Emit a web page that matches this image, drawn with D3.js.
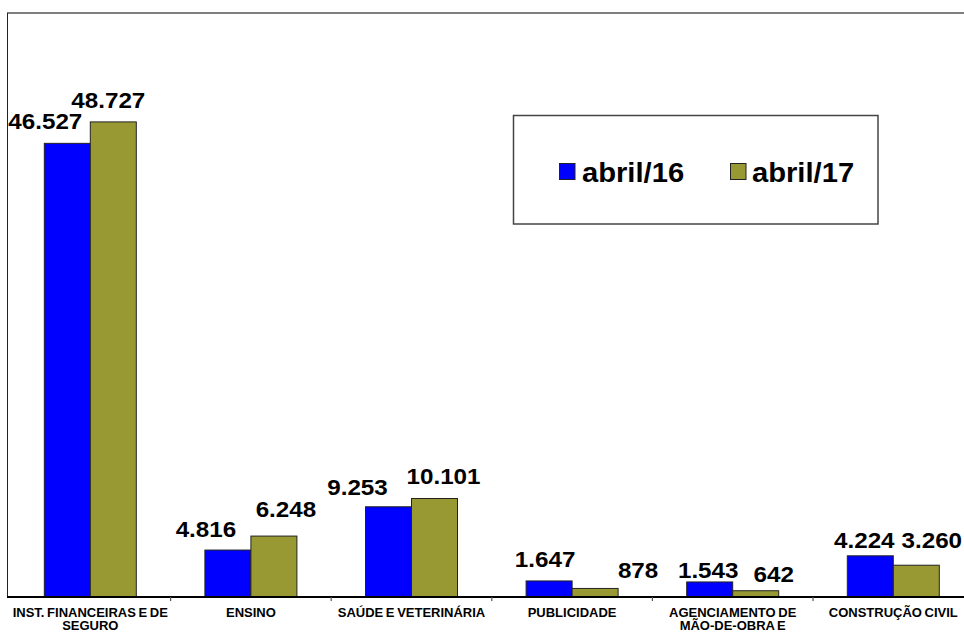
<!DOCTYPE html>
<html>
<head>
<meta charset="utf-8">
<script src="https://cdn.jsdelivr.net/npm/d3@7"></script>
<style>
  html, body { margin: 0; padding: 0; background: #fff; }
  svg { display: block; }
  text { font-family: "Liberation Sans", Arial, sans-serif; font-weight: bold; fill: #000; }
</style>
</head>
<body>
<svg id="chart" width="964" height="636"></svg>
<script>
// Sectors (two-line labels split with "\n")
const categories = [
  "INST. FINANCEIRAS E DE\nSEGURO",
  "ENSINO",
  "SAÚDE E VETERINÁRIA",
  "PUBLICIDADE",
  "AGENCIAMENTO DE\nMÃO-DE-OBRA E",
  "CONSTRUÇÃO CIVIL"
];
const seriesNames = ["abril/16", "abril/17"];
const valuesApr16 = [46527, 4816, 9253, 1647, 1543, 4224];
const valuesApr17 = [48727, 6248, 10101, 878, 642, 3260];
const yDomain = [0, 60000];

// Hand-placed label nudges (dx from bar centre, dy of baseline from bar top)
const labelNudge = [
  [[-22, -14], [-5, -14]],
  [[-22, -13], [12, -19]],
  [[-31, -12], [9, -14.5]],
  [[-4, -13.5], [43, -10]],
  [[-1.5, -4], [18, -9]],
  [[-6, -8], [15.5, -17]]
];

const colors = ["#0000FF", "#999933"];
const fmt = d3.formatLocale({ decimal: ",", thousands: ".", grouping: [3], currency: ["", ""] }).format(",d");

const svg = d3.select("#chart");
const plot = { left: 10, right: 973.6, top: 13, base: 597 };

const x = d3.scaleBand()
  .domain(d3.range(categories.length))
  .range([plot.left, plot.right])
  .padding(0);
const bw = x.bandwidth();
const xs = d3.scaleBand()
  .domain(d3.range(seriesNames.length))
  .range([bw / 2 - 46, bw / 2 + 46])
  .padding(0);
const y = d3.scaleLinear().domain(yDomain).range([plot.base, 12]);

const rows = categories.map((c, i) => ({
  cat: c, i,
  vals: [valuesApr16[i], valuesApr17[i]]
}));

// Frame: top and left edges of the plot area
svg.append("line").attr("x1", 7).attr("x2", 964).attr("y1", 13).attr("y2", 13)
  .attr("stroke", "#555").attr("stroke-width", 1.6);
svg.append("line").attr("x1", 7.5).attr("x2", 7.5).attr("y1", 13).attr("y2", plot.base)
  .attr("stroke", "#222").attr("stroke-width", 1);

// Bars
const groups = svg.append("g").selectAll("g").data(rows).join("g")
  .attr("transform", d => `translate(${x(d.i)},0)`);

groups.selectAll("rect").data(d => d.vals.map((v, s) => ({ v, s, i: d.i }))).join("rect")
  .attr("x", d => xs(d.s))
  .attr("width", xs.bandwidth())
  .attr("y", d => y(d.v))
  .attr("height", d => y(0) - y(d.v))
  .attr("fill", d => colors[d.s])
  .attr("stroke", "#222")
  .attr("stroke-width", 1);

// Value labels
groups.selectAll("text.val").data(d => d.vals.map((v, s) => ({ v, s, i: d.i }))).join("text")
  .attr("class", "val")
  .attr("text-anchor", "middle")
  .attr("font-size", 22)
  .attr("transform", d => {
    const n = labelNudge[d.i][d.s];
    const cx = xs(d.s) + xs.bandwidth() / 2 + n[0];
    const by = y(d.v) + n[1];
    return `translate(${cx},${by}) scale(1.1,1)`;
  })
  .text(d => fmt(d.v));

// Category axis
const axis = d3.axisBottom(x).tickSize(0).tickFormat("");
const axisG = svg.append("g").attr("transform", `translate(0,${plot.base})`).call(axis);
axisG.select(".domain").remove();
svg.append("line").attr("x1", 7).attr("x2", 964).attr("y1", plot.base).attr("y2", plot.base)
  .attr("stroke", "#000").attr("stroke-width", 2);

// Tick marks between categories
svg.append("g").selectAll("line").data(d3.range(1, categories.length)).join("line")
  .attr("x1", i => x(i)).attr("x2", i => x(i))
  .attr("y1", plot.base).attr("y2", plot.base + 4)
  .attr("stroke", "#555").attr("stroke-width", 1.2);

// Category labels
const catText = svg.append("g").selectAll("text").data(rows).join("text")
  .attr("text-anchor", "middle")
  .attr("font-size", 13)
  .attr("word-spacing", -1)
  .attr("x", d => x(d.i) + bw / 2)
  .attr("y", 617);
catText.selectAll("tspan").data(d => d.cat.split("\n").map(t => ({ t, x: x(d.i) + bw / 2 }))).join("tspan")
  .attr("x", d => d.x)
  .attr("dy", (d, k) => k === 0 ? 0 : 13.3)
  .text(d => d.t);

// Legend
const lg = svg.append("g");
lg.append("rect").attr("x", 513.5).attr("y", 115.5).attr("width", 364.5).attr("height", 108.5)
  .attr("fill", "#fff").attr("stroke", "#444").attr("stroke-width", 1.5);
const legendItems = [
  { name: seriesNames[0], sx: 559, tx: 583 },
  { name: seriesNames[1], sx: 730, tx: 753 }
];
legendItems.forEach((it, k) => {
  lg.append("rect").attr("x", it.sx + 0.5).attr("y", 163.5).attr("width", 15.5).attr("height", 16)
    .attr("fill", colors[k]).attr("stroke", "#222").attr("stroke-width", 1);
  lg.append("text").attr("font-size", 27)
    .attr("transform", `translate(${it.tx - 1},181.5) scale(1.08,1)`)
    .text(it.name);
});
</script>
</body>
</html>
